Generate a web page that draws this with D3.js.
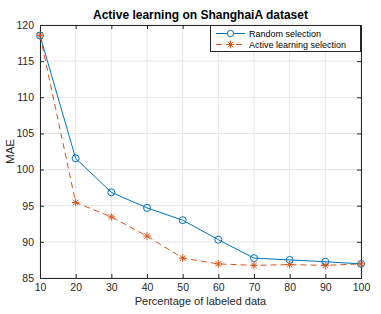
<!DOCTYPE html>
<html><head><meta charset="utf-8">
<script src="https://cdn.jsdelivr.net/npm/d3@7"></script>
<style>body{margin:0;background:#fff}text{font-family:"Liberation Sans",Arial,sans-serif}</style>
</head><body><svg id="c" width="381" height="314"></svg>
<script>
const percentages = [10,20,30,40,50,60,70,80,90,100];
const randomSel = [118.55,101.55,96.85,94.7,93.0,90.3,87.75,87.5,87.25,86.95];
const activeSel = [118.55,95.45,93.45,90.8,87.75,86.95,86.75,86.85,86.75,86.95];
const xTicks = [10,20,30,40,50,60,70,80,90,100];
const yTicks = [85,90,95,100,105,110,115,120];
const seriesNames = ["Random selection","Active learning selection"];

const svg = d3.select("#c");
const L=40,R=361,T=25,B=278;
const x = d3.scaleLinear().domain([10,100]).range([L,R]);
const y = d3.scaleLinear().domain([85,120]).range([B,T]);

// grid
const g = svg.append("g");
g.selectAll(".gx").data(xTicks).enter().append("line")
 .attr("x1",d=>x(d)).attr("x2",d=>x(d)).attr("y1",T).attr("y2",B)
 .attr("stroke","#e6e6e6").attr("stroke-width",1);
g.selectAll(".gy").data(yTicks).enter().append("line")
 .attr("x1",L).attr("x2",R).attr("y1",d=>y(d)).attr("y2",d=>y(d))
 .attr("stroke","#e6e6e6").attr("stroke-width",1);

// axes
const ax = svg.append("g").attr("transform",`translate(0,${B})`)
 .call(d3.axisBottom(x).tickValues(xTicks).tickSize(-4).tickPadding(6));
const axT = svg.append("g").attr("transform",`translate(0,${T})`)
 .call(d3.axisTop(x).tickValues(xTicks).tickSize(-4).tickFormat(""));
const ay = svg.append("g").attr("transform",`translate(${L},0)`)
 .call(d3.axisLeft(y).tickValues(yTicks).tickSize(-4).tickPadding(6));
const ayR = svg.append("g").attr("transform",`translate(${R},0)`)
 .call(d3.axisRight(y).tickValues(yTicks).tickSize(-4).tickFormat(""));
[ax,axT,ay,ayR].forEach(a=>{
 a.selectAll("path").attr("stroke","#262626");
 a.selectAll("line").attr("stroke","#262626");
 a.selectAll("text").attr("font-size","10.5px").attr("fill","#262626").style("font-family","Liberation Sans, Arial, sans-serif");
});

const line = d3.line().x((d,i)=>x(percentages[i])).y(d=>y(d));
const blue="#0072BD", orange="#D95319";

svg.append("path").datum(activeSel).attr("d",line).attr("fill","none")
 .attr("stroke",orange).attr("stroke-width",1).attr("stroke-dasharray","6,4");
svg.append("path").datum(randomSel).attr("d",line).attr("fill","none")
 .attr("stroke",blue).attr("stroke-width",1);

function star(sel, cx, cy, r){
 const gg = sel.append("g").attr("transform",`translate(${cx},${cy})`).attr("stroke",orange).attr("stroke-width",1);
 gg.append("line").attr("x1",-r).attr("x2",r).attr("y1",0).attr("y2",0);
 gg.append("line").attr("x1",0).attr("x2",0).attr("y1",-r).attr("y2",r);
 const k=r*0.72;
 gg.append("line").attr("x1",-k).attr("x2",k).attr("y1",-k).attr("y2",k);
 gg.append("line").attr("x1",-k).attr("x2",k).attr("y1",k).attr("y2",-k);
}
randomSel.forEach((v,i)=>{
 svg.append("circle").attr("cx",x(percentages[i])).attr("cy",y(v)).attr("r",3.5)
  .attr("fill","none").attr("stroke",blue).attr("stroke-width",1);
});
activeSel.forEach((v,i)=>star(svg,x(percentages[i]),y(v),3.8));

// title and labels
svg.append("text").attr("x",(L+R)/2).attr("y",19).attr("text-anchor","middle")
 .attr("font-size","12px").attr("font-weight","bold").attr("fill","#000").text("Active learning on ShanghaiA dataset");
svg.append("text").attr("x",(L+R)/2).attr("y",305).attr("text-anchor","middle")
 .attr("font-size","11px").attr("fill","#262626").text("Percentage of labeled data");
svg.append("text").attr("transform",`translate(14,${(T+B)/2}) rotate(-90)`).attr("text-anchor","middle")
 .attr("font-size","11.5px").attr("fill","#262626").text("MAE");

// legend
const lg = svg.append("g");
lg.append("rect").attr("x",210.5).attr("y",25.5).attr("width",150).attr("height",26)
 .attr("fill","#fff").attr("stroke","#262626").attr("stroke-width",1);
const ly1=33.5, ly2=44.5;
lg.append("line").attr("x1",216).attr("x2",245).attr("y1",ly1).attr("y2",ly1).attr("stroke",blue);
lg.append("circle").attr("cx",230.5).attr("cy",ly1).attr("r",3.2).attr("fill","#fff").attr("stroke",blue);
lg.append("line").attr("x1",216).attr("x2",245).attr("y1",ly2).attr("y2",ly2).attr("stroke",orange).attr("stroke-dasharray","6,4");
star(lg,230.5,ly2,3.8);
lg.append("text").attr("x",249).attr("y",ly1+3.5).attr("font-size","9px").attr("fill","#000").text(seriesNames[0]);
lg.append("text").attr("x",249).attr("y",ly2+3.5).attr("font-size","9px").attr("fill","#000").text(seriesNames[1]);
</script></body></html>
